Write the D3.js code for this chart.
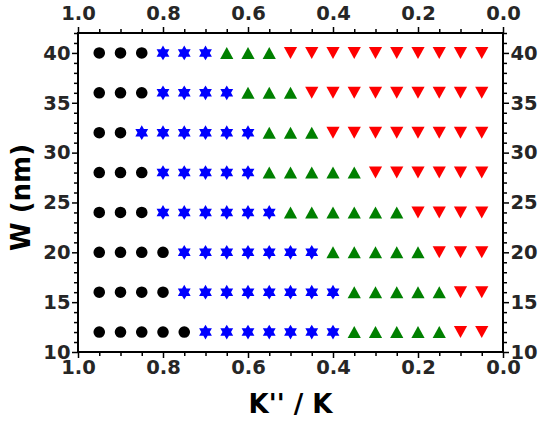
<!DOCTYPE html>
<html>
<head>
<meta charset="utf-8">
<script src="https://cdn.jsdelivr.net/npm/d3@7"></script>
<style>
  html, body { margin: 0; padding: 0; background: #fff; }
  svg { display: block; }
  .tick text { font-family: "DejaVu Sans", sans-serif; font-weight: bold; }
</style>
</head>
<body>
<svg id="chart" width="538" height="421"></svg>
<script>
// Stiffness ratio columns (x) and wire widths (y, nm)
const kRatios = [0.95, 0.90, 0.85, 0.80, 0.75, 0.70, 0.65, 0.60, 0.55, 0.50,
                 0.45, 0.40, 0.35, 0.30, 0.25, 0.20, 0.15, 0.10, 0.05];
const widths = [12, 16, 20, 24, 28, 32, 36, 40];

// Phase observed at each (width, K''/K) point, one string per width, one letter per column
// C = circle, S = hexagram, U = up-triangle, D = down-triangle
const phaseRows = [
  "CCCCCSSSSSSSUUUUUDD", // 12
  "CCCCSSSSSSSSUUUUUDD", // 16
  "CCCCSSSSSSSUUUUUDDD", // 20
  "CCCSSSSSSUUUUUUDDDD", // 24
  "CCCSSSSSUUUUUDDDDDD", // 28
  "CCSSSSSSUUUDDDDDDDD", // 32
  "CCCSSSSUUUDDDDDDDDD", // 36
  "CCCSSSUUUDDDDDDDDDD"  // 40
];

const xTicks = [1.0, 0.8, 0.6, 0.4, 0.2, 0.0];
const xMinor = [0.95, 0.90, 0.85, 0.75, 0.70, 0.65, 0.55, 0.50, 0.45,
                0.35, 0.30, 0.25, 0.15, 0.10, 0.05];
const yTicks = [10, 15, 20, 25, 30, 35, 40];
const yMinor = d3.range(10, 43).filter(v => v % 5 !== 0);

const phaseColors = { C: "#000000", S: "#0000ff", U: "#008000", D: "#ff0000" };

(function draw() {
  const W = 538, H = 421;
  const margin = { left: 78, right: 35, top: 33, bottom: 69 };
  const svg = d3.select("#chart");

  const x = d3.scaleLinear().domain([1.0, 0.0]).range([margin.left, W - margin.right]);
  const y = d3.scaleLinear().domain([10, 42]).range([H - margin.bottom, margin.top]);

  // Marker path generators, centred on the origin
  function hexagram(R) {
    const pts = [];
    for (let i = 0; i < 12; i++) {
      const r = i % 2 === 0 ? R : R / Math.sqrt(3);
      const a = -Math.PI / 2 + i * Math.PI / 6;
      pts.push([r * Math.cos(a), r * Math.sin(a)]);
    }
    return "M" + pts.map(p => p[0].toFixed(2) + "," + p[1].toFixed(2)).join("L") + "Z";
  }
  const triUp = (hw, hh) => `M0,${-hh}L${hw},${hh}L${-hw},${hh}Z`;
  const triDown = (hw, hh) => `M0,${hh}L${hw},${-hh}L${-hw},${-hh}Z`;
  const markerPath = {
    C: d3.symbol(d3.symbolCircle, Math.PI * 5.8 * 5.8)(),
    S: hexagram(7.4),
    U: triUp(6.6, 6),
    D: triDown(6.6, 6)
  };

  // Points
  const points = [];
  widths.forEach((w, i) => {
    kRatios.forEach((k, j) => points.push({ k, w, phase: phaseRows[i][j] }));
  });

  svg.append("g").selectAll("path")
    .data(points)
    .join("path")
    .attr("transform", d => `translate(${x(d.k)},${y(d.w)})`)
    .attr("d", d => markerPath[d.phase])
    .attr("fill", d => phaseColors[d.phase]);

  // Axes: major ticks with labels, minor ticks without
  const fontSize = 19.5;
  function styleAxis(g) {
    g.select(".domain").remove();
    g.selectAll(".tick line").attr("stroke", "#000").attr("stroke-width", 1.5);
    g.selectAll(".tick text").attr("fill", "#262626").style("font-size", fontSize + "px");
  }
  const yBottom = H - margin.bottom, yTop = margin.top;
  const xLeft = margin.left, xRight = W - margin.right;

  svg.append("g").attr("transform", `translate(0,${yBottom})`)
    .call(d3.axisBottom(x).tickValues(xTicks).tickFormat(d3.format(".1f")).tickSize(6).tickPadding(2.5))
    .call(styleAxis);
  svg.append("g").attr("transform", `translate(0,${yBottom})`)
    .call(d3.axisBottom(x).tickValues(xMinor).tickFormat("").tickSize(4))
    .call(styleAxis);
  svg.append("g").attr("transform", `translate(0,${yTop})`)
    .call(d3.axisTop(x).tickValues(xTicks).tickFormat(d3.format(".1f")).tickSize(6).tickPadding(7))
    .call(styleAxis);
  svg.append("g").attr("transform", `translate(0,${yTop})`)
    .call(d3.axisTop(x).tickValues(xMinor).tickFormat("").tickSize(4))
    .call(styleAxis);

  svg.append("g").attr("transform", `translate(${xLeft},0)`)
    .call(d3.axisLeft(y).tickValues(yTicks).tickSize(6).tickPadding(1.5))
    .call(styleAxis);
  svg.append("g").attr("transform", `translate(${xLeft},0)`)
    .call(d3.axisLeft(y).tickValues(yMinor).tickFormat("").tickSize(4))
    .call(styleAxis);
  svg.append("g").attr("transform", `translate(${xRight},0)`)
    .call(d3.axisRight(y).tickValues(yTicks).tickSize(6).tickPadding(1.5))
    .call(styleAxis);
  svg.append("g").attr("transform", `translate(${xRight},0)`)
    .call(d3.axisRight(y).tickValues(yMinor).tickFormat("").tickSize(4))
    .call(styleAxis);

  // Frame
  svg.append("rect")
    .attr("x", xLeft).attr("y", yTop)
    .attr("width", xRight - xLeft).attr("height", yBottom - yTop)
    .attr("fill", "none").attr("stroke", "#000").attr("stroke-width", 2);

  // Axis titles
  svg.append("text")
    .attr("x", (xLeft + xRight) / 2).attr("y", 413)
    .attr("text-anchor", "middle")
    .style("font-family", "DejaVu Sans, sans-serif").style("font-weight", "bold")
    .style("font-size", "26px").attr("fill", "#000")
    .text("K'' / K");

  svg.append("text")
    .attr("transform", `translate(30,${(yTop + yBottom) / 2 + 5}) rotate(-90)`)
    .attr("text-anchor", "middle")
    .style("font-family", "DejaVu Sans, sans-serif").style("font-weight", "bold")
    .style("font-size", "26px").attr("fill", "#000")
    .text("W (nm)");
})();
</script>
</body>
</html>
